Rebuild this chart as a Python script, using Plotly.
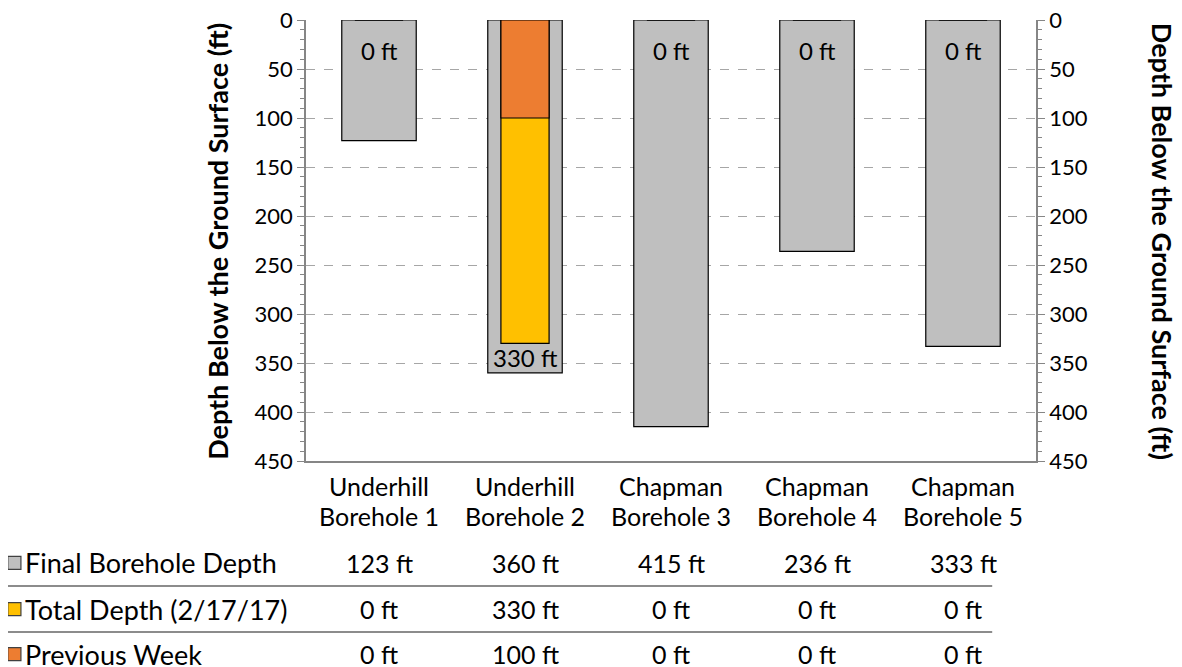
import plotly.graph_objects as go

categories = ["Underhill<br>Borehole 1", "Underhill<br>Borehole 2", "Chapman<br>Borehole 3",
              "Chapman<br>Borehole 4", "Chapman<br>Borehole 5"]
final_depth = [123, 360, 415, 236, 333]
total_depth = [0, 330, 0, 0, 0]
previous_week = [0, 100, 0, 0, 0]
series_names = ["Final Borehole Depth", "Total Depth (2/17/17)", "Previous Week"]
series_colors = ["#BFBFBF", "#FFC000", "#ED7D31"]
y_ticks = [0, 50, 100, 150, 200, 250, 300, 350, 400, 450]
axis_title = "Depth Below the Ground Surface (ft)"

FONT = "Lato, Carlito, Calibri, sans-serif"
AXC = "#868686"
F_TICK, F_CAT, F_ROW, F_VAL, F_LAB, F_TITLE = 22, 25, 27, 25, 24, 27


def txt(size):
    return dict(size=size, color="#000000", family=FONT)


fig = go.Figure()
fig.add_bar(x=categories, y=final_depth, name=series_names[0], width=0.51, yaxis="y",
            marker=dict(color=series_colors[0], line=dict(color="#000000", width=1.2)))
fig.add_bar(x=categories, y=total_depth, name=series_names[1], width=0.33, yaxis="y",
            marker=dict(color=series_colors[1], line=dict(color="#000000", width=1.2)))
fig.add_bar(x=categories, y=previous_week, name=series_names[2], width=0.33, yaxis="y2",
            marker=dict(color=series_colors[2], line=dict(color="#000000", width=1.2)))

annotations = []
# data labels for Total Depth series
for c, v in zip(categories, total_depth):
    annotations.append(dict(x=c, y=v, xref="x", yref="y", text=f"{v} ft", showarrow=False,
                            xanchor="center", yanchor="middle", yshift=-14 if v > 0 else -30,
                            font=txt(F_LAB)))

# category labels (two lines each)
for c in categories:
    for line, yy in zip(c.split("<br>"), [-0.0567, -0.1247]):
        annotations.append(dict(x=c, y=yy, xref="x", yref="paper", text=line, showarrow=False,
                                xanchor="center", yanchor="middle", font=txt(F_CAT)))

# data table
row_y = [-0.231, -0.336, -0.438]
rows = [final_depth, total_depth, previous_week]
shapes = []
for name, color, vals, yy in zip(series_names, series_colors, rows, row_y):
    annotations.append(dict(x=-0.388, y=yy, xref="paper", yref="paper", text=name, showarrow=False,
                            xanchor="left", yanchor="middle", font=txt(F_ROW)))
    shapes.append(dict(type="rect", xref="paper", yref="paper", x0=-0.4085, x1=-0.3905,
                       y0=yy - 0.0148, y1=yy + 0.0148, fillcolor=color,
                       line=dict(color="#404040", width=1.2)))
    for c, v in zip(categories, vals):
        annotations.append(dict(x=c, y=yy, xref="x", yref="paper", text=f"{v} ft", showarrow=False,
                                xanchor="center", yanchor="middle", font=txt(F_VAL)))
for yy in [-0.2834, -0.3878]:
    shapes.append(dict(type="line", xref="paper", yref="paper", x0=-0.415, x1=0.94,
                       y0=yy, y1=yy, line=dict(color="#8C8C8C", width=2)))

annotations.append(dict(x=-0.1205, y=0.497, xref="paper", yref="paper", text=f"<b>{axis_title}</b>",
                        showarrow=False, textangle=-90, xanchor="center", yanchor="middle",
                        font=txt(F_TITLE)))
annotations.append(dict(x=1.1726, y=0.497, xref="paper", yref="paper", text=f"<b>{axis_title}</b>",
                        showarrow=False, textangle=90, xanchor="center", yanchor="middle",
                        font=txt(F_TITLE)))

yax_common = dict(range=[450, 0], tickvals=y_ticks, ticktext=[str(t) for t in y_ticks],
                  zeroline=False, showline=True, linecolor=AXC, linewidth=1.5, automargin=False,
                  ticklabeloverflow="allow",
                  ticks="outside", ticklen=7, tickcolor=AXC, tickwidth=1.2,
                  minor=dict(ticks="outside", ticklen=4, dtick=10, tickcolor=AXC, tickwidth=1, showgrid=False),
                  tickfont=txt(F_TICK))

fig.update_layout(
    width=1182, height=667,
    margin=dict(l=298, r=154, t=12, b=214),
    paper_bgcolor="white", plot_bgcolor="white",
    barmode="overlay", showlegend=False,
    font=dict(family=FONT, size=F_TICK, color="#000000"),
    xaxis=dict(type="category", range=[-0.5, 4.5], showline=True, linecolor=AXC, linewidth=2,
               ticks="", showgrid=False, zeroline=False, showticklabels=False, automargin=False),
    yaxis=dict(**yax_common, side="left", showgrid=True, gridcolor="#A6A6A6", griddash="dash", gridwidth=1),
    yaxis2=dict(**yax_common, side="right", overlaying="y", anchor="x", showgrid=False),
    annotations=annotations, shapes=shapes,
)
fig.write_html("out.html")
